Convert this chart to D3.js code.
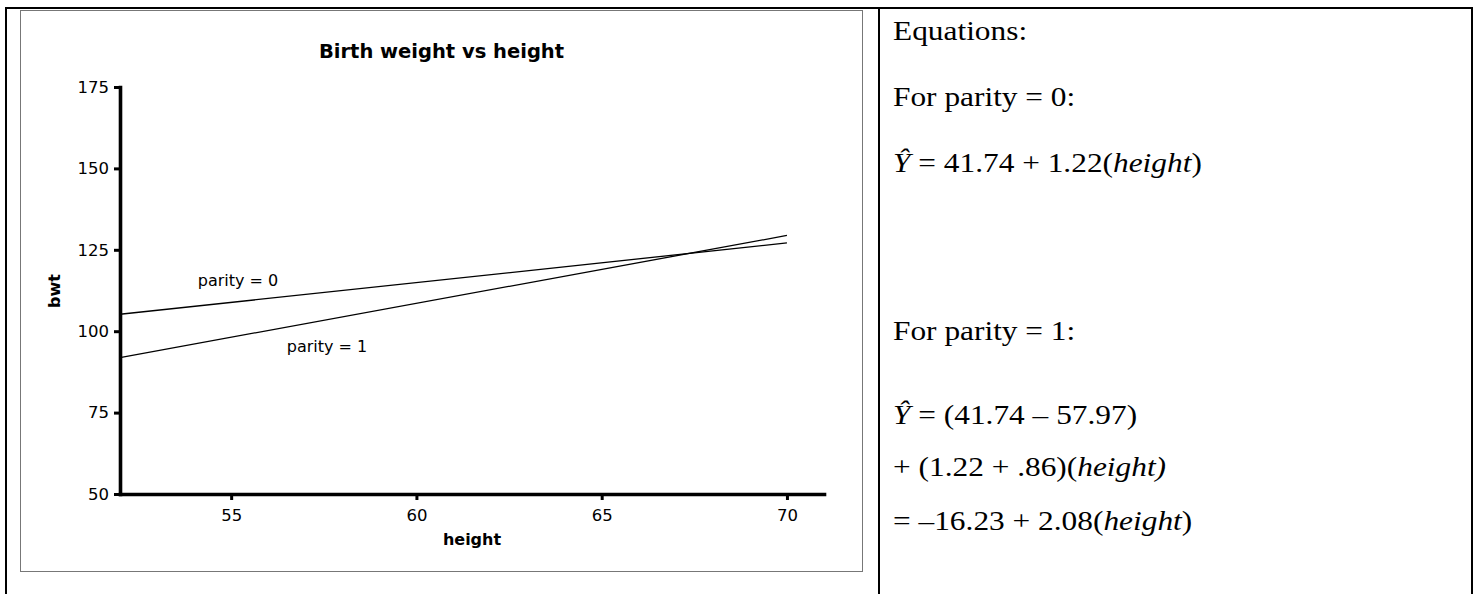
<!DOCTYPE html>
<html>
<head>
<meta charset="utf-8">
<script src="https://cdn.jsdelivr.net/npm/d3@7"></script>
<style>
  html, body { margin: 0; padding: 0; background: #fff; }
  svg { display: block; }
</style>
</head>
<body>
<div id="chart"></div>
<script>
// dados
const heightEnds = [52, 70];
const bwtParity0 = [105.2, 127.1];
const bwtParity1 = [91.9, 129.4];
const xTicks = [55, 60, 65, 70];
const yTicks = [50, 75, 100, 125, 150, 175];
const seriesNames = ['parity = 0', 'parity = 1'];
// posição dos rótulos, em unidades dos dados
const labelAt = [[54.1, 113.9], [56.5, 93.6]];

const equationLines = [
  [{ t: 'Equations:' }],
  [{ t: 'For parity = 0:' }],
  [{ t: 'Ŷ', i: true }, { t: ' = 41.74 + 1.22(' }, { t: 'height', i: true }, { t: ')' }],
  [{ t: 'For parity = 1:' }],
  [{ t: 'Ŷ', i: true }, { t: ' = (41.74 – 57.97)' }],
  [{ t: '+ (1.22 + .86)(' }, { t: 'height)', i: true }],
  [{ t: '= –16.23 + 2.08(' }, { t: 'height', i: true }, { t: ')' }]
];
const equationBaselines = [40, 106, 172, 340, 424, 476, 530];

const W = 1479, H = 594;
const svg = d3.select('#chart').append('svg')
  .attr('width', W)
  .attr('height', H);

// moldura da tabela
svg.append('rect')
  .attr('x', 6).attr('y', 8)
  .attr('width', 1466).attr('height', 600)
  .attr('fill', 'none').attr('stroke', '#000').attr('stroke-width', 2);
svg.append('line')
  .attr('x1', 879).attr('x2', 879).attr('y1', 8).attr('y2', H)
  .attr('stroke', '#000').attr('stroke-width', 2);

// caixa do gráfico
svg.append('rect')
  .attr('x', 20.5).attr('y', 10.5)
  .attr('width', 842).attr('height', 561)
  .attr('fill', '#fff').attr('stroke', '#777').attr('stroke-width', 1);

const x = d3.scaleLinear().domain([52, 71]).range([120, 824]);
const y = d3.scaleLinear().domain([50, 175]).range([494, 87]);

const font = "'DejaVu Sans', Verdana, sans-serif";

svg.append('text')
  .attr('x', 441.5).attr('y', 58)
  .attr('text-anchor', 'middle')
  .attr('font-family', font).attr('font-weight', 'bold').attr('font-size', 19.5)
  .text('Birth weight vs height');

// eixos
const yAxis = svg.append('g')
  .attr('transform', `translate(${x(52)},0)`)
  .call(d3.axisLeft(y).tickValues(yTicks).tickSize(6).tickPadding(5).tickSizeOuter(0));
const xAxis = svg.append('g')
  .attr('transform', `translate(0,${y(50)})`)
  .call(d3.axisBottom(x).tickValues(xTicks).tickSize(6).tickPadding(9).tickSizeOuter(0));

[yAxis, xAxis].forEach(g => {
  g.select('.domain').attr('stroke-width', 3.6).attr('stroke-linecap', 'square');
  g.selectAll('.tick line').attr('stroke-width', 3);
  g.selectAll('.tick text')
    .attr('font-family', font).attr('font-size', 16.5).attr('fill', '#000');
});

svg.append('text')
  .attr('transform', 'translate(60,291) rotate(-90)')
  .attr('text-anchor', 'middle')
  .attr('font-family', font).attr('font-weight', 'bold').attr('font-size', 16)
  .text('bwt');
svg.append('text')
  .attr('x', (x(52) + x(71)) / 2).attr('y', 545)
  .attr('text-anchor', 'middle')
  .attr('font-family', font).attr('font-weight', 'bold').attr('font-size', 16)
  .text('height');

// retas de regressão
const series = [bwtParity0, bwtParity1].map(vals => vals.map((v, i) => [heightEnds[i], v]));
const line = d3.line().x(d => x(d[0])).y(d => y(d[1]));

svg.append('g')
  .selectAll('path')
  .data(series)
  .join('path')
  .attr('d', line)
  .attr('fill', 'none')
  .attr('stroke', '#000')
  .attr('stroke-width', 1.3);

svg.append('g')
  .selectAll('text')
  .data(seriesNames)
  .join('text')
  .attr('x', (d, i) => x(labelAt[i][0]))
  .attr('y', (d, i) => y(labelAt[i][1]))
  .attr('font-family', font).attr('font-size', 16)
  .text(d => d);

// painel das equações
const eq = svg.append('g')
  .attr('transform', 'translate(893,0) scale(1.12,1)')
  .attr('font-family', "'Liberation Serif', 'Times New Roman', serif")
  .attr('font-size', 28);

eq.selectAll('text')
  .data(equationLines)
  .join('text')
  .attr('x', 0)
  .attr('y', (d, i) => equationBaselines[i])
  .each(function (parts) {
    d3.select(this).selectAll('tspan')
      .data(parts)
      .join('tspan')
      .attr('font-style', p => p.i ? 'italic' : null)
      .text(p => p.t);
  });
</script>
</body>
</html>
